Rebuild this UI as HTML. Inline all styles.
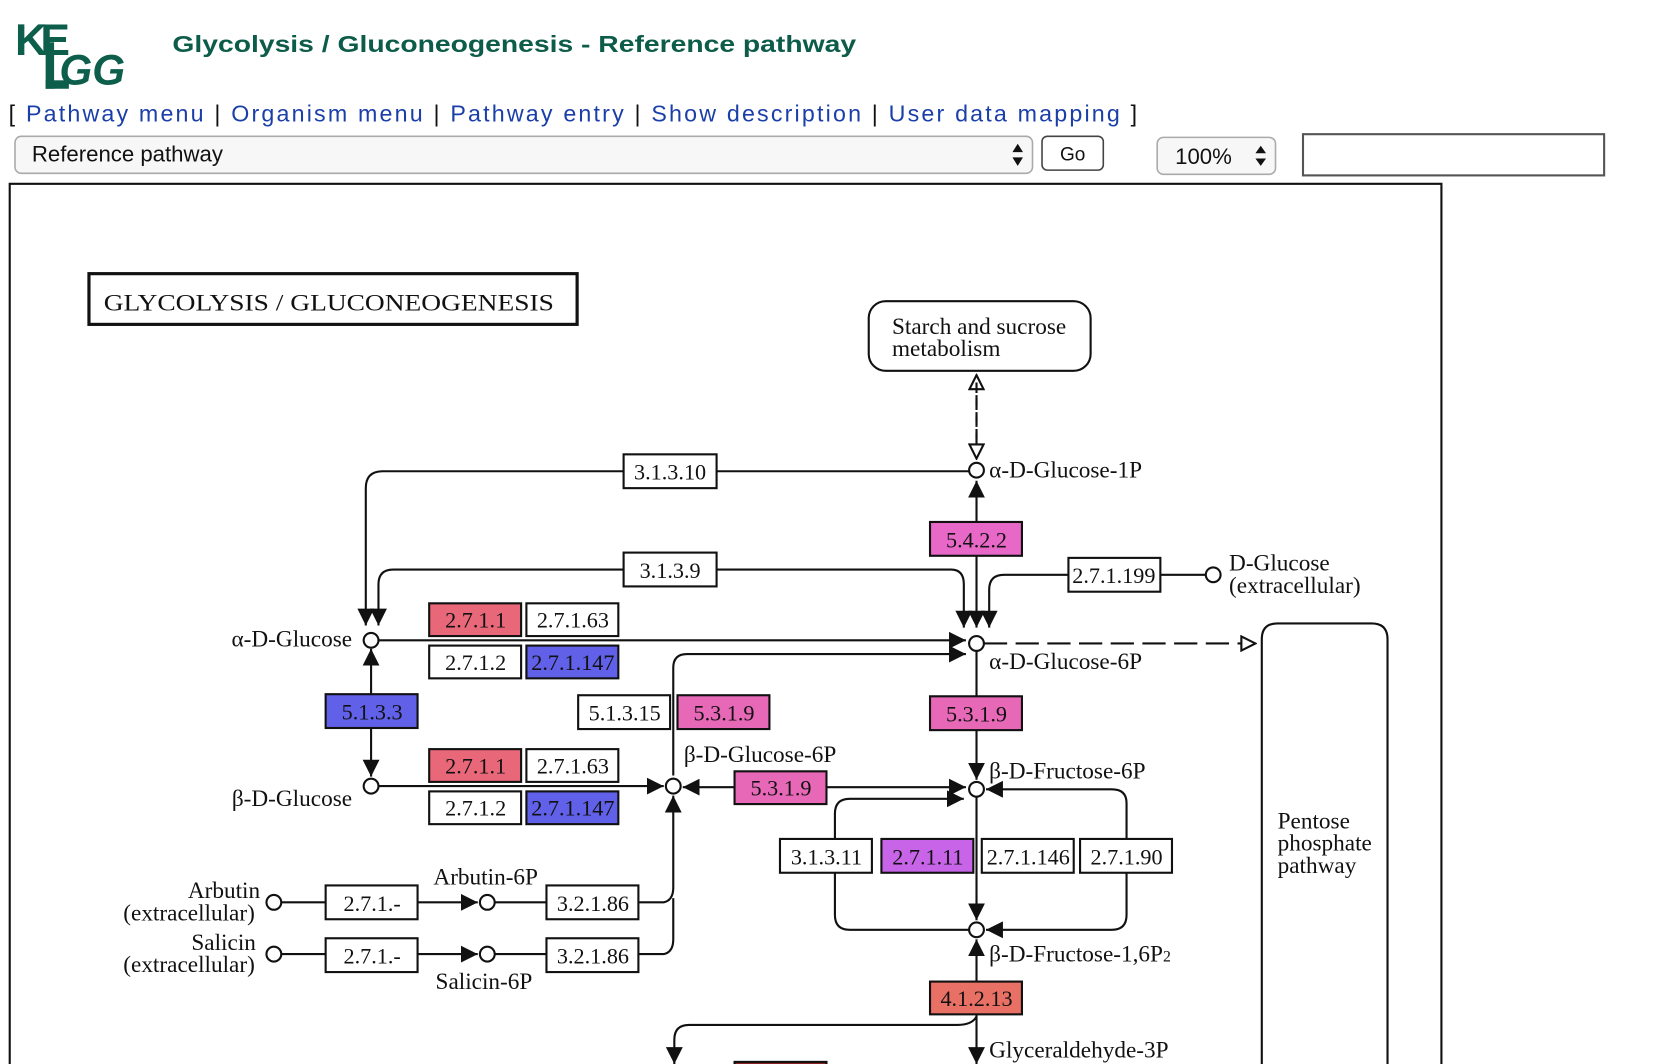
<!DOCTYPE html>
<html><head><meta charset="utf-8"><style>
html,body{margin:0;padding:0;background:#fff;width:1654px;height:1064px;overflow:hidden}
svg{display:block}
.s{font-family:"Liberation Serif",serif;font-size:22px;fill:#111}
.b{fill:#fff;stroke:#111;stroke-width:2}
.l{fill:none;stroke:#111;stroke-width:2}
.n{fill:#fff;stroke:#111;stroke-width:2}
.e{font-family:"Liberation Serif",serif;font-size:21px;fill:#111;text-anchor:middle}
</style></head><body>
<svg width="1654" height="1064" viewBox="0 0 1565 1007" xmlns="http://www.w3.org/2000/svg">
<defs>
<marker id="a" viewBox="0 0 10 10" refX="10" refY="5" markerWidth="8" markerHeight="8" orient="auto" markerUnits="strokeWidth"><path d="M0,0 L10,5 L0,10 z" fill="#111"/></marker>
<marker id="o" viewBox="0 0 12 12" refX="11" refY="6" markerWidth="8" markerHeight="8" orient="auto" markerUnits="strokeWidth"><path d="M1,1 L11,6 L1,11 z" fill="#fff" stroke="#111" stroke-width="1.5"/></marker>
</defs>
<!-- header -->
<g font-family="Liberation Sans,sans-serif" font-weight="bold" fill="#0e5e4c">
<text x="14" y="52" font-size="42">K</text>
<text x="38" y="52" font-size="42">E</text>
<rect x="43" y="40" width="8" height="44" fill="#0e5e4c"/>
<rect x="43" y="76" width="22" height="8" fill="#0e5e4c"/>
<text x="56" y="80" font-size="40" font-style="italic">GG</text>
</g>
<text x="163" y="49" font-family="Liberation Sans,sans-serif" font-weight="bold" font-size="22" fill="#0d5c4a" textLength="647" lengthAdjust="spacingAndGlyphs">Glycolysis / Gluconeogenesis - Reference pathway</text>
<text x="8" y="115" font-family="Liberation Sans,sans-serif" font-size="22" fill="#111" textLength="1068" lengthAdjust="spacing">[ <tspan fill="#1a3fa8">Pathway menu</tspan> | <tspan fill="#1a3fa8">Organism menu</tspan> | <tspan fill="#1a3fa8">Pathway entry</tspan> | <tspan fill="#1a3fa8">Show description</tspan> | <tspan fill="#1a3fa8">User data mapping</tspan> ]</text>
<rect x="14" y="129" width="963" height="35" rx="6" fill="#f7f7f7" stroke="#aaa" stroke-width="1.5"/>
<text x="30" y="153" font-family="Liberation Sans,sans-serif" font-size="21" fill="#111">Reference pathway</text>
<path d="M958,149 l5,8 l5,-8z M958,144 l5,-8 l5,8z" fill="#111"/>
<rect x="986" y="129" width="58" height="32" rx="5" fill="#fff" stroke="#444" stroke-width="1.5"/>
<text x="1015" y="152" text-anchor="middle" font-family="Liberation Sans,sans-serif" font-size="18" fill="#111">Go</text>
<rect x="1095" y="130" width="112" height="35" rx="6" fill="#f7f7f7" stroke="#aaa" stroke-width="1.5"/>
<text x="1112" y="155" font-family="Liberation Sans,sans-serif" font-size="21" fill="#111">100%</text>
<path d="M1188,150 l5,7 l5,-7z M1188,145 l5,-7 l5,7z" fill="#111"/>
<rect x="1233" y="127" width="285" height="39" fill="#fff" stroke="#555" stroke-width="2"/>
<!-- map frame -->
<path d="M9,1010 L9,174 L1364,174 L1364,1010" fill="#fff" stroke="#111" stroke-width="2"/>
<rect x="84" y="259" width="462" height="48" fill="#fff" stroke="#111" stroke-width="3"/>
<text x="98" y="294" class="s" font-size="25" textLength="426" lengthAdjust="spacingAndGlyphs">GLYCOLYSIS / GLUCONEOGENESIS</text>
<rect x="822" y="285" width="210" height="66" rx="16" class="b"/>
<text x="844" y="316" class="s">Starch and sucrose</text><text x="844" y="337" class="s">metabolism</text>
<path d="M924,432 L924,355" class="l" stroke-dasharray="10,6" marker-end="url(#o)"/>
<path d="M924,362 L924,434" class="l" stroke-dasharray="10,6" marker-end="url(#o)"/>
<!-- pentose -->
<path d="M1194,1010 L1194,605 Q1194,590 1209,590 L1298,590 Q1313,590 1313,605 L1313,1010" class="l"/>
<text x="1209" y="784" class="s">Pentose</text><text x="1209" y="805" class="s">phosphate</text><text x="1209" y="826" class="s">pathway</text>
<!-- lines -->
<path d="M917,446 L362,446 Q346,446 346,462 L346,592" class="l" marker-end="url(#a)"/>
<path d="M590,539 L372,539 Q358,539 358,553 L358,592" class="l" marker-end="url(#a)"/>
<path d="M678,539 L900,539 Q912,539 912,553 L912,594" class="l" marker-end="url(#a)"/>
<path d="M924,500 L924,455" class="l" marker-end="url(#a)"/>
<path d="M924,520 L924,594" class="l" marker-end="url(#a)"/>
<path d="M1141,544 L950,544 Q936,544 936,558 L936,594" class="l" marker-end="url(#a)"/>
<path d="M358,606 L914,606" class="l" marker-end="url(#a)"/>
<path d="M637,734 L637,632 Q637,619 650,619 L914,619" class="l" marker-end="url(#a)"/>
<path d="M931,609 L1188,609" class="l" stroke-dasharray="22,8" marker-end="url(#o)"/>
<path d="M351,660 L351,614" class="l" marker-end="url(#a)"/>
<path d="M351,680 L351,735" class="l" marker-end="url(#a)"/>
<path d="M924,616 L924,738" class="l" marker-end="url(#a)"/>
<path d="M358,744 L628,744" class="l" marker-end="url(#a)"/>
<path d="M700,745 L646,745" class="l" marker-end="url(#a)"/>
<path d="M780,745 L914,745" class="l" marker-end="url(#a)"/>
<path d="M790,796 L790,770 Q790,756 804,756 L912,756" class="l" marker-end="url(#a)"/>
<path d="M1066,796 L1066,760 Q1066,747 1052,747 L933,747" class="l" marker-end="url(#a)"/>
<path d="M924,754 L924,871" class="l" marker-end="url(#a)"/>
<path d="M790,826 L790,866 Q790,880 804,880 L917,880" class="l"/>
<path d="M1066,826 L1066,866 Q1066,880 1052,880 L933,880" class="l" marker-end="url(#a)"/>
<path d="M924,930 L924,889" class="l" marker-end="url(#a)"/>
<path d="M924,960 L924,1007" class="l" marker-end="url(#a)"/>
<path d="M924,962 Q920,970 906,970 L652,970 Q638,970 638,984 L638,1007" class="l" marker-end="url(#a)"/>
<path d="M266,854 L452,854" class="l" marker-end="url(#a)"/>
<path d="M266,903 L452,903" class="l" marker-end="url(#a)"/>
<path d="M468,854 L628,854 Q637,852 637,840 L637,753" class="l" marker-end="url(#a)"/>
<path d="M468,903 L628,903 Q637,901 637,889 L637,850" class="l"/>
<!-- nodes -->
<g class="n">
<circle cx="924" cy="445" r="7"/><circle cx="351" cy="606" r="7"/><circle cx="924" cy="609" r="7"/>
<circle cx="351" cy="744" r="7"/><circle cx="637" cy="744" r="7"/><circle cx="924" cy="747" r="7"/>
<circle cx="924" cy="880" r="7"/><circle cx="1148" cy="544" r="7"/>
<circle cx="259" cy="854" r="7"/><circle cx="461" cy="854" r="7"/><circle cx="259" cy="903" r="7"/><circle cx="461" cy="903" r="7"/>
</g>
<!-- enzyme boxes -->
<g stroke="#111" stroke-width="2">
<rect x="590" y="430" width="88" height="32" fill="#fff"/>
<rect x="880" y="494" width="87" height="32" fill="#e868c8"/>
<rect x="590" y="523" width="88" height="32" fill="#fff"/>
<rect x="1011" y="528" width="87" height="32" fill="#fff"/>
<rect x="406" y="571" width="87" height="31" fill="#e8687a"/>
<rect x="498" y="571" width="87" height="31" fill="#fff"/>
<rect x="406" y="611" width="87" height="31" fill="#fff"/>
<rect x="498" y="611" width="87" height="31" fill="#6060e8"/>
<rect x="308" y="657" width="87" height="32" fill="#6060e8"/>
<rect x="547" y="658" width="87" height="32" fill="#fff"/>
<rect x="641" y="658" width="87" height="32" fill="#e868b8"/>
<rect x="880" y="659" width="87" height="32" fill="#e868b8"/>
<rect x="406" y="709" width="87" height="31" fill="#e8687a"/>
<rect x="498" y="709" width="87" height="31" fill="#fff"/>
<rect x="406" y="749" width="87" height="31" fill="#fff"/>
<rect x="498" y="749" width="87" height="31" fill="#6060e8"/>
<rect x="695" y="730" width="87" height="31" fill="#e868b8"/>
<rect x="738" y="794" width="87" height="32" fill="#fff"/>
<rect x="834" y="794" width="87" height="32" fill="#c864e8"/>
<rect x="929" y="794" width="87" height="32" fill="#fff"/>
<rect x="1022" y="794" width="87" height="32" fill="#fff"/>
<rect x="308" y="838" width="87" height="32" fill="#fff"/>
<rect x="517" y="838" width="87" height="32" fill="#fff"/>
<rect x="308" y="888" width="87" height="32" fill="#fff"/>
<rect x="517" y="888" width="87" height="32" fill="#fff"/>
<rect x="880" y="929" width="87" height="31" fill="#e87064"/>
<rect x="695" y="1005" width="87" height="10" fill="#8a2020"/>
</g>
<g class="e">
<text x="634" y="454">3.1.3.10</text><text x="924" y="518">5.4.2.2</text>
<text x="634" y="547">3.1.3.9</text><text x="1054" y="552">2.7.1.199</text>
<text x="450" y="594">2.7.1.1</text><text x="542" y="594">2.7.1.63</text>
<text x="450" y="634">2.7.1.2</text><text x="542" y="634">2.7.1.147</text>
<text x="352" y="681">5.1.3.3</text><text x="591" y="682">5.1.3.15</text><text x="685" y="682">5.3.1.9</text>
<text x="924" y="683">5.3.1.9</text>
<text x="450" y="732">2.7.1.1</text><text x="542" y="732">2.7.1.63</text>
<text x="450" y="772">2.7.1.2</text><text x="542" y="772">2.7.1.147</text>
<text x="739" y="753">5.3.1.9</text>
<text x="782" y="818">3.1.3.11</text><text x="878" y="818">2.7.1.11</text><text x="973" y="818">2.7.1.146</text><text x="1066" y="818">2.7.1.90</text>
<text x="352" y="862">2.7.1.-</text><text x="561" y="862">3.2.1.86</text>
<text x="352" y="912">2.7.1.-</text><text x="561" y="912">3.2.1.86</text>
<text x="924" y="952">4.1.2.13</text>
</g>
<!-- compound labels -->
<text x="936" y="452" class="s">α-D-Glucose-1P</text>
<text x="1163" y="540" class="s">D-Glucose</text><text x="1163" y="561" class="s">(extracellular)</text>
<text x="333" y="612" class="s" text-anchor="end">α-D-Glucose</text>
<text x="936" y="633" class="s">α-D-Glucose-6P</text>
<text x="647" y="721" class="s">β-D-Glucose-6P</text>
<text x="936" y="737" class="s">β-D-Fructose-6P</text>
<text x="333" y="763" class="s" text-anchor="end">β-D-Glucose</text>
<text x="410" y="837" class="s">Arbutin-6P</text>
<text x="246" y="850" class="s" text-anchor="end">Arbutin</text><text x="241" y="871" class="s" text-anchor="end">(extracellular)</text>
<text x="242" y="899" class="s" text-anchor="end">Salicin</text><text x="241" y="920" class="s" text-anchor="end">(extracellular)</text>
<text x="936" y="910" class="s">β-D-Fructose-1,6P<tspan font-size="15">2</tspan></text>
<text x="412" y="936" class="s">Salicin-6P</text>
<text x="936" y="1001" class="s">Glyceraldehyde-3P</text>
</svg>
</body></html>
